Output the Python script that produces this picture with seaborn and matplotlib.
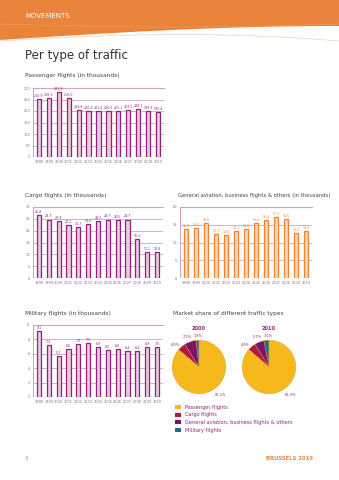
import matplotlib
matplotlib.use("Agg")
import matplotlib.pyplot as plt
import seaborn as sns
import pandas as pd
import numpy as np
from matplotlib.patches import Polygon, Rectangle

sns.set_theme(style="white")
plt.rcParams['font.family'] = ['DejaVu Sans']

years = [str(y) for y in range(1998, 2011)]
passenger = [250.9, 258.1, 281.9, 256.0, 204.8, 200.4, 201.4, 200.6, 201.1, 203.5, 208.1, 199.9, 195.4]
cargo = [26.8, 24.7, 23.9, 22.2, 21.7, 23.0, 24.2, 24.7, 24.5, 24.7, 16.3, 11.1, 10.8]
general = [13.8, 14.0, 15.6, 12.3, 12.0, 13.3, 13.8, 15.6, 16.4, 17.1, 16.5, 12.6, 13.2]
military = [9.1, 7.2, 5.7, 6.6, 7.3, 7.5, 6.9, 6.5, 6.6, 6.4, 6.4, 6.9, 7.0]

pie_years = ["2000", "2010"]
pie_labels = ["Passenger flights", "Cargo flights",
              "General aviation, business flights & others", "Military flights"]
share_2000 = [86.2, 4.9, 7.1, 1.8]
share_2010 = [86.3, 4.9, 5.7, 3.1]

PURPLE = "#8e2379"
PINK = "#ecc9e3"
ORANGE = "#e9843a"
LORANGE = "#f9d6b4"
GRID = "#cfa3c8"
TXT = "#8a6a86"
pie_colors = ["#f6b91c", "#b3174a", "#7a1466", "#1e6f8c"]

W, H = 339, 480
fig = plt.figure(figsize=(W / 100, H / 100), dpi=100)
fig.patch.set_facecolor("white")

def px_axes(l, t, r, b, **kw):
    return fig.add_axes([l / W, 1 - b / H, (r - l) / W, (b - t) / H], **kw)

# header band
bg = fig.add_axes([0, 0, 1, 1], zorder=-5)
bg.set_xlim(0, W); bg.set_ylim(H, 0); bg.axis("off")
xs = np.linspace(0, W, 80)
curve = 40 - 14 * np.sin(xs / W * np.pi / 2)
poly = np.vstack([np.column_stack([xs, curve]), [[W, 0], [0, 0]]])
bg.add_patch(Polygon(poly, closed=True, color=ORANGE, lw=0))
bg.plot(xs, curve + 1.0 + 14 * (xs / W) ** 2, color="#f3c4a0", lw=0.4)
bg.plot(xs, 24 + 3 * np.sin(xs / W * np.pi), color="#f29e5c", lw=0.4)

fig.text(25 / W, 1 - 16 / H, "MOVEMENTS", color="white", fontsize=5, va="center")
fig.text(25 / W, 1 - 55 / H, "Per type of traffic", color="#333333", fontsize=8.5, va="center")

def title(x, y, s, fs=4.2):
    fig.text(x / W, 1 - y / H, s, color="#444444", fontsize=fs, va="center")

title(25, 75, "Passenger flights (in thousands)")
title(25, 196, "Cargo flights (in thousands)")
title(178, 196, "General aviation, business flights & others (in thousands)", fs=3.75)
title(25, 314, "Military flights (in thousands)")
title(173, 314, "Market share of different traffic types")

def bar_chart(ax, vals, ymax, step, edge, fill, labcol, gridcol):
    df = pd.DataFrame({"year": years, "value": vals})
    sns.barplot(data=df, x="year", y="value", ax=ax, color=fill, edgecolor=edge,
                linewidth=0.9, width=0.42, saturation=1, zorder=3)
    ax.set_ylim(0, ymax)
    ax.set_xlim(-0.6, len(years) - 0.4)
    ticks = np.arange(0, ymax + 0.01, step)
    ax.set_yticks(ticks)
    ax.set_yticklabels([f"{int(v)}" for v in ticks])
    ax.yaxis.grid(True, color=gridcol, lw=0.6, zorder=0)
    ax.set_axisbelow(True)
    for s in ["left", "right", "bottom"]:
        ax.spines[s].set_visible(False)
    ax.spines["top"].set_color(gridcol)
    ax.spines["top"].set_linewidth(0.8)
    ax.axvline(-0.6, color=gridcol, lw=0.8)
    ax.axhline(0, color=gridcol, lw=0.8)
    ax.tick_params(axis="both", labelsize=2.5, colors=TXT, length=0, pad=2)
    ax.set_xlabel(""); ax.set_ylabel("")
    for i, v in enumerate(vals):
        lab = f"{v:.1f}"
        ax.text(i, v + ymax * 0.015, lab, ha="center", va="bottom",
                fontsize=2.3, color=labcol)

ax1 = px_axes(33, 88, 164, 157)
bar_chart(ax1, passenger, 300, 50, PURPLE, PINK, PURPLE, GRID)
ax2 = px_axes(33, 207, 163, 278)
bar_chart(ax2, cargo, 30, 5, PURPLE, PINK, PURPLE, GRID)
ax3 = px_axes(180, 207, 312, 278)
bar_chart(ax3, general, 20, 5, ORANGE, LORANGE, ORANGE, GRID)
ax4 = px_axes(33, 325, 163, 397)
bar_chart(ax4, military, 10, 2, PURPLE, PINK, PURPLE, GRID)

# label pixel offsets relative to pie centre: cargo, GA, military, passenger
lab_off = {"cargo": (-24, -22), "ga": (-12, -30), "mil": (-1, -31), "pass": (21, 28)}

def pie_final(cx, cy, vals, yr):
    r = 27
    ax = px_axes(cx - r, cy - r, cx + r, cy + r)
    seq = list(reversed(vals))
    cols = list(reversed(pie_colors))
    ax.pie(seq, colors=cols, startangle=90, counterclock=True,
           wedgeprops=dict(edgecolor="#d9963a", linewidth=0.3))
    ax.set_xlim(-1.01, 1.01); ax.set_ylim(-1.01, 1.01)
    ax.set_aspect("equal")
    fig.text(cx / W, 1 - (cy - 38) / H, yr, ha="center", va="center",
             fontsize=3.6, color=PURPLE, fontweight="bold")
    keys = ["pass", "cargo", "ga", "mil"]
    for k, v in zip(keys, vals):
        dx, dy = lab_off[k]
        fig.text((cx + dx) / W, 1 - (cy + dy) / H, f"{v:.1f}%", ha="center",
                 va="center", fontsize=2.5, color=PURPLE)
    return ax

pie_final(199, 367, share_2000, pie_years[0])
pie_final(269, 367, share_2010, pie_years[1])

# legend
for i, (lab, c) in enumerate(zip(pie_labels, pie_colors)):
    y = 407 + i * 7.7
    bg.add_patch(Rectangle((175, y - 2), 6, 4, color=c, lw=0))
    bg.text(185, y, lab, fontsize=3.6, color=PURPLE, va="center")

fig.text(25 / W, 1 - 458 / H, "3", color=ORANGE, fontsize=4, va="center")
fig.text(313 / W, 1 - 458 / H, "BRUSSELS 2010", color=ORANGE, fontsize=3.8,
         va="center", ha="right", fontweight="bold")

fig.savefig("out.png", dpi=100)
